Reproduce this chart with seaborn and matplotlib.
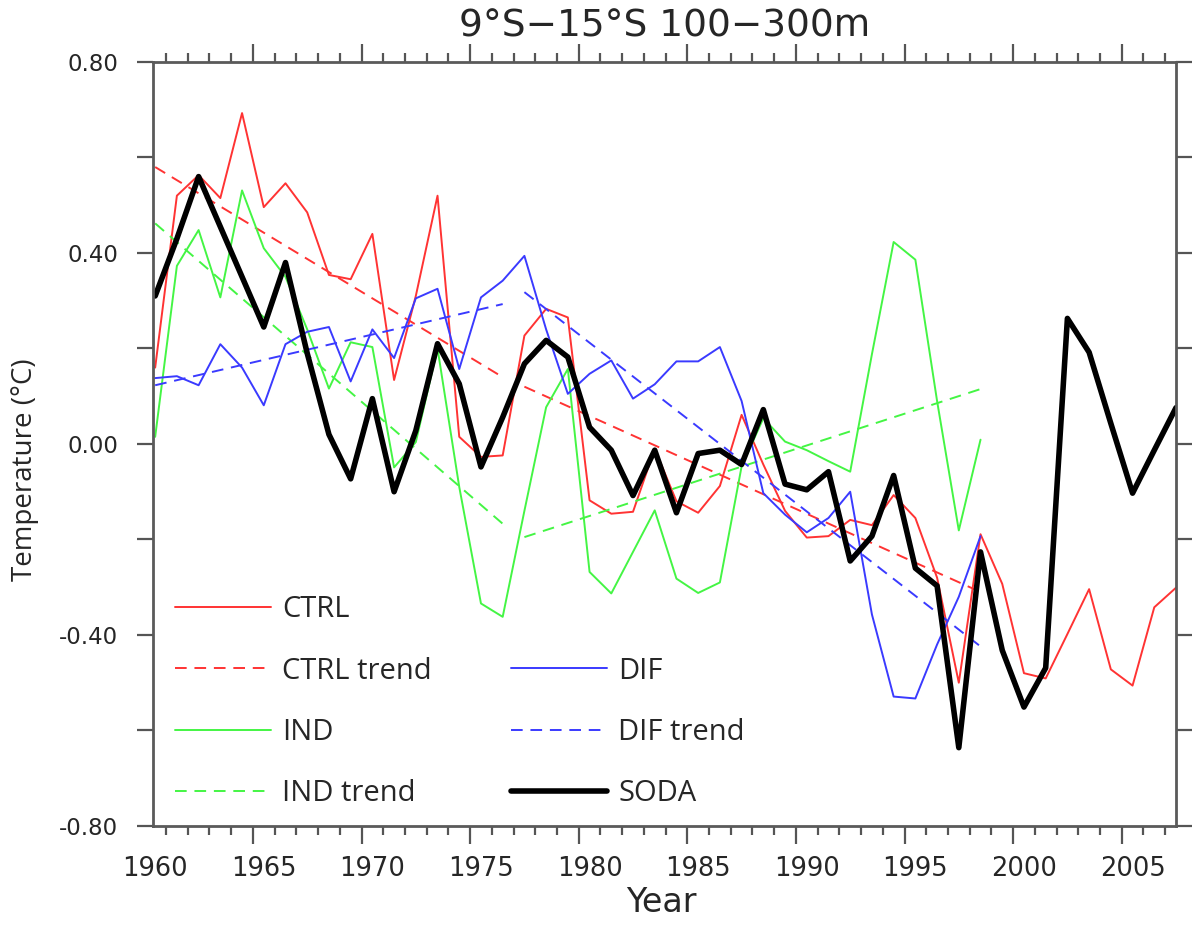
import numpy as np
import pandas as pd
import seaborn as sns
import matplotlib.pyplot as plt
from matplotlib.lines import Line2D
from matplotlib.ticker import MultipleLocator

# annual means, 1960-2007 (SODA, CTRL) and 1960-1998 (IND, DIF)
years = np.arange(1960, 2008)
soda = [0.31, 0.43, 0.56, 0.455, 0.35, 0.245, 0.38, 0.19, 0.02, -0.073,
        0.095, -0.10, 0.028, 0.21, 0.126, -0.048, 0.056, 0.168, 0.217, 0.182,
        0.035, -0.013, -0.108, -0.013, -0.144, -0.02, -0.013, -0.043, 0.072, -0.084,
        -0.096, -0.058, -0.245, -0.193, -0.066, -0.26, -0.297, -0.636, -0.226, -0.432,
        -0.551, -0.469, 0.263, 0.192, 0.043, -0.103, -0.013, 0.076]
ctrl = [0.16, 0.52, 0.563, 0.515, 0.693, 0.496, 0.546, 0.485, 0.354, 0.345,
        0.44, 0.134, 0.31, 0.52, 0.015, -0.027, -0.024, 0.227, 0.283, 0.265,
        -0.118, -0.146, -0.142, -0.01, -0.12, -0.144, -0.088, 0.061, -0.043, -0.14,
        -0.196, -0.193, -0.159, -0.17, -0.107, -0.155, -0.28, -0.5, -0.189, -0.293,
        -0.48, -0.491, -0.398, -0.304, -0.472, -0.506, -0.342, -0.301]
ind = [0.015, 0.373, 0.448, 0.307, 0.531, 0.41, 0.35, 0.24, 0.116, 0.213,
       0.203, -0.049, 0.004, 0.2, -0.09, -0.334, -0.362, -0.14, 0.077, 0.157,
       -0.268, -0.313, -0.226, -0.139, -0.282, -0.312, -0.29, -0.047, 0.054, 0.005,
       -0.013, -0.036, -0.058, 0.188, 0.423, 0.386, 0.09, -0.181, 0.009]
dif = [0.138, 0.142, 0.123, 0.209, 0.16, 0.081, 0.209, 0.235, 0.245, 0.131,
       0.24, 0.18, 0.305, 0.325, 0.157, 0.307, 0.342, 0.394, 0.24, 0.105,
       0.147, 0.175, 0.095, 0.125, 0.173, 0.173, 0.203, 0.09, -0.103, -0.148,
       -0.185, -0.155, -0.1, -0.357, -0.529, -0.533, -0.42, -0.32, -0.193]

# linear trends, before and after the 1976/77 shift (end points)
trend_years = [[1960, 1976], [1977, 1998]]
ctrl_trend = [[0.58, 0.14], [0.12, -0.31]]
ind_trend = [[0.462, -0.167], [-0.195, 0.115]]
dif_trend = [[0.123, 0.293], [0.318, -0.424]]

label_years = [1960, 1965, 1970, 1975, 1980, 1985, 1990, 1995, 2000, 2005]

RED, GREEN, BLUE = "#ff3333", "#44f544", "#3a3aff"
dash = (0, (6, 4))

sns.set_style("ticks")
plt.rcParams["font.family"] = ["DejaVu Sans"]

fig = plt.figure(figsize=(12, 9.35), dpi=100)
ax = fig.add_axes([0.1275, 0.1166, 0.8525, 0.8171])

mid = years + 0.5  # annual means plotted at mid-year
n = len(ind)

sns.lineplot(x=mid, y=ctrl, color=RED, lw=1.4, label="CTRL", ax=ax)
for k, (yrs, vals) in enumerate(zip(trend_years, ctrl_trend)):
    sns.lineplot(x=np.array(yrs) + 0.5, y=vals, color=RED, lw=1.4, linestyle=dash,
                 label="CTRL trend" if k == 0 else None, ax=ax)
sns.lineplot(x=mid[:n], y=ind, color=GREEN, lw=1.4, label="IND", ax=ax)
for k, (yrs, vals) in enumerate(zip(trend_years, ind_trend)):
    sns.lineplot(x=np.array(yrs) + 0.5, y=vals, color=GREEN, lw=1.4, linestyle=dash,
                 label="IND trend" if k == 0 else None, ax=ax)
sns.lineplot(x=mid[:n], y=dif, color=BLUE, lw=1.4, label="DIF", ax=ax)
for k, (yrs, vals) in enumerate(zip(trend_years, dif_trend)):
    sns.lineplot(x=np.array(yrs) + 0.5, y=vals, color=BLUE, lw=1.4, linestyle=dash,
                 label="DIF trend" if k == 0 else None, ax=ax)
sns.lineplot(x=mid, y=soda, color="black", lw=4, label="SODA", ax=ax)

ax.set_xlim(1960.4, 2007.5)
ax.set_ylim(-0.8, 0.8)

# axis frame and ticks, pointing outward on all four sides
for sp in ax.spines.values():
    sp.set_visible(True)
    sp.set_linewidth(2.0)
    sp.set_color("#5a5a5a")

ax.xaxis.set_major_locator(MultipleLocator(5))
ax.xaxis.set_minor_locator(MultipleLocator(1))
ax.yaxis.set_major_locator(MultipleLocator(0.4))
ax.yaxis.set_minor_locator(MultipleLocator(0.2))
ax.tick_params(axis="x", which="major", direction="out", length=12.7, width=1.6,
               color="#555555", top=True, bottom=True, labelbottom=False)
ax.tick_params(axis="x", which="minor", direction="out", length=6.7, width=1.6,
               color="#555555", top=True, bottom=True)
ax.tick_params(axis="y", which="both", direction="out", length=11.5, width=1.6,
               color="#555555", left=True, right=True, labelsize=16.5, pad=13.5)
ax.set_yticks(np.arange(-0.8, 0.81, 0.4), labels=["-0.80", "-0.40", "0.00", "0.40", "0.80"])

# year labels sit at mid-year, between the tick marks
sec = ax.secondary_xaxis("bottom")
sec.set_xticks(np.array(label_years) + 0.5, labels=[str(y) for y in label_years])
sec.tick_params(axis="x", length=0, pad=21.5, labelsize=18.5)
for sp in sec.spines.values():
    sp.set_visible(False)

ax.set_title("9°S−15°S 100−300m", fontsize=27, pad=18.5)
ax.set_xlabel("Year", fontsize=24)
ax.xaxis.label.set_va("baseline")
ax.xaxis.set_label_coords((661 - 153) / 1023, (826 - 912) / 764)
ax.set_ylabel("Temperature (°C)", fontsize=20, family=["Open Sans", "DejaVu Sans"])
ax.yaxis.label.set_va("center")
ax.yaxis.set_label_coords((25 - 153) / 1023, (826 - 470) / 764)

handles, labels = ax.get_legend_handles_labels()
lookup = dict(zip(labels, handles))
blank = Line2D([], [], alpha=0)
order = ["CTRL", "CTRL trend", "IND", "IND trend", None, "DIF", "DIF trend", "SODA"]
leg = ax.legend([lookup[o] if o else blank for o in order],
                [o if o else "" for o in order],
                ncol=2, loc="upper left", bbox_to_anchor=(0.0215, 0.302),
                frameon=False, borderpad=0, borderaxespad=0,
                handlelength=3.3, handletextpad=0.38, columnspacing=2.7,
                labelspacing=1.11, prop={"family": ["Open Sans", "DejaVu Sans"], "size": 21})

fig.savefig("out.png", dpi=100)
